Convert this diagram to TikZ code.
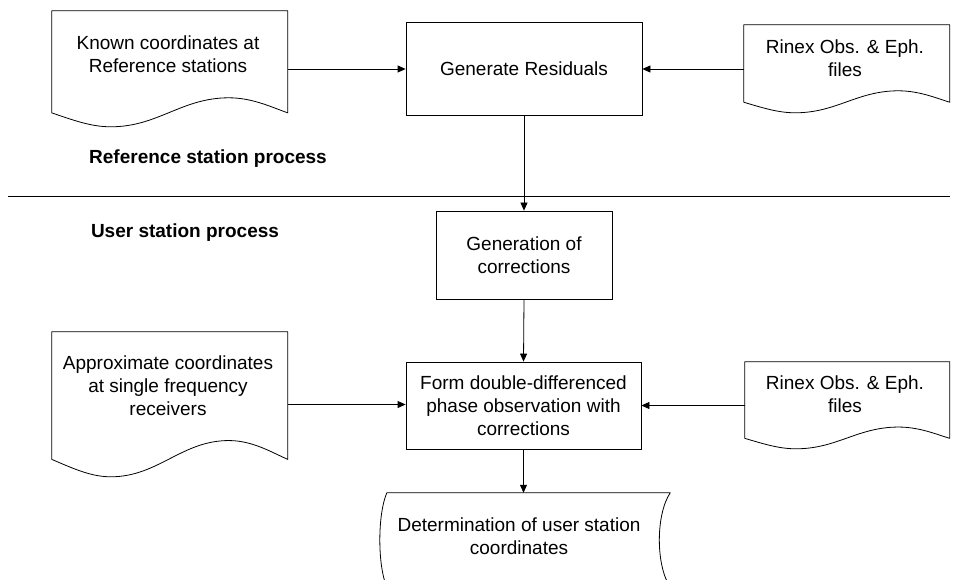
\documentclass[tikz,border=0pt]{standalone}
\usepackage{fontspec}
\setmainfont{Liberation Sans}
\usetikzlibrary{arrows.meta}
\newcommand\docoutline[3]{%
  \draw[shp, shift={(#1.north west)}, x=#2pt, y=-#3pt]
    (0,0) -- (1,0) -- (1,0.88)
    .. controls (0.93,0.83) and (0.85,0.75) .. (0.75,0.75)
    .. controls (0.55,0.75) and (0.45,1) .. (0.25,1)
    .. controls (0.17,1) and (0.1,0.95) .. (0,0.88) -- cycle;}
\begin{document}
\begin{tikzpicture}[x=1pt,y=-1pt,
  every node/.style={font=\fontsize{19}{23}\selectfont, align=center, inner sep=0pt},
  proc/.style={draw, rectangle, line width=0.8pt},
  docbox/.style={rectangle, inner sep=0pt},
  lbl/.style={font=\fontsize{19}{23}\selectfont\bfseries},
  conn/.style={line width=0.8pt, -{Triangle[length=8pt,width=7pt]}},
  shp/.style={line width=0.8pt, line join=round}]
\useasboundingbox (0,0) rectangle (954,580);

% process boxes
\node[proc, minimum width=236pt, minimum height=93pt] (gr) at (524,68.5) {Generate Residuals};
\node[proc, minimum width=176pt, minimum height=88pt] (goc) at (524,255) {Generation of\\corrections};
\node[proc, minimum width=235pt, minimum height=87pt] (form) at (523.5,405.5) {Form double-differenced\\phase observation with\\corrections};

% document shapes
\node[docbox, minimum width=236pt, minimum height=116pt] (known) at (170,69) {};
\node[docbox, minimum width=206pt, minimum height=88pt] (rin1) at (847,69) {};
\node[docbox, minimum width=236pt, minimum height=145pt] (approx) at (170,404.5) {};
\node[docbox, minimum width=205pt, minimum height=87pt] (rin2) at (847.5,405.5) {};
\docoutline{known}{236}{116}
\docoutline{rin1}{206}{88}
\docoutline{approx}{236}{145}
\docoutline{rin2}{205}{87}
\node (knownt) at (168,54) {Known coordinates at\\Reference stations};
\node (rin1t) at (845,58.5) {Rinex Obs. \& Eph.\\files};
\node (approxt) at (168,386) {Approximate coordinates\\at single frequency\\receivers};
\node (rin2t) at (845,394) {Rinex Obs. \& Eph.\\files};

% stored data shape
\node[docbox, minimum width=283pt, minimum height=94pt] (det) at (528.5,540) {};
\draw[shp] (det.north west) -- (det.north east)
  .. controls +(-14.5,22) and +(-14.5,-22) .. (det.south east)
  -- (det.south west)
  .. controls +(-9.3,-22) and +(-9.3,22) .. (det.north west) -- cycle;
\node (dett) at (519,536.5) {Determination of user station\\coordinates};

% labels and separator
\node[lbl] (reflbl) at (208,159) {Reference station process};
\node[lbl] (userlbl) at (185,233) {User station process};
\coordinate (sepL) at (8,196);
\coordinate (sepR) at (950,196);
\draw[line width=0.8pt] (sepL) -- (sepR);

% connectors
\draw[conn] (known.east) -- (known.east -| gr.west);
\draw[conn] (rin1.west) -- (rin1.west -| gr.east);
\draw[conn] (gr.south) -- (goc.north);
\draw[conn] (goc.south) -- (form.north);
\draw[conn] (approx.east) -- (approx.east -| form.west);
\draw[conn] (rin2.west) -- (rin2.west -| form.east);
\draw[conn] (form.south) -- (form.south |- det.north);
\end{tikzpicture}
\end{document}
